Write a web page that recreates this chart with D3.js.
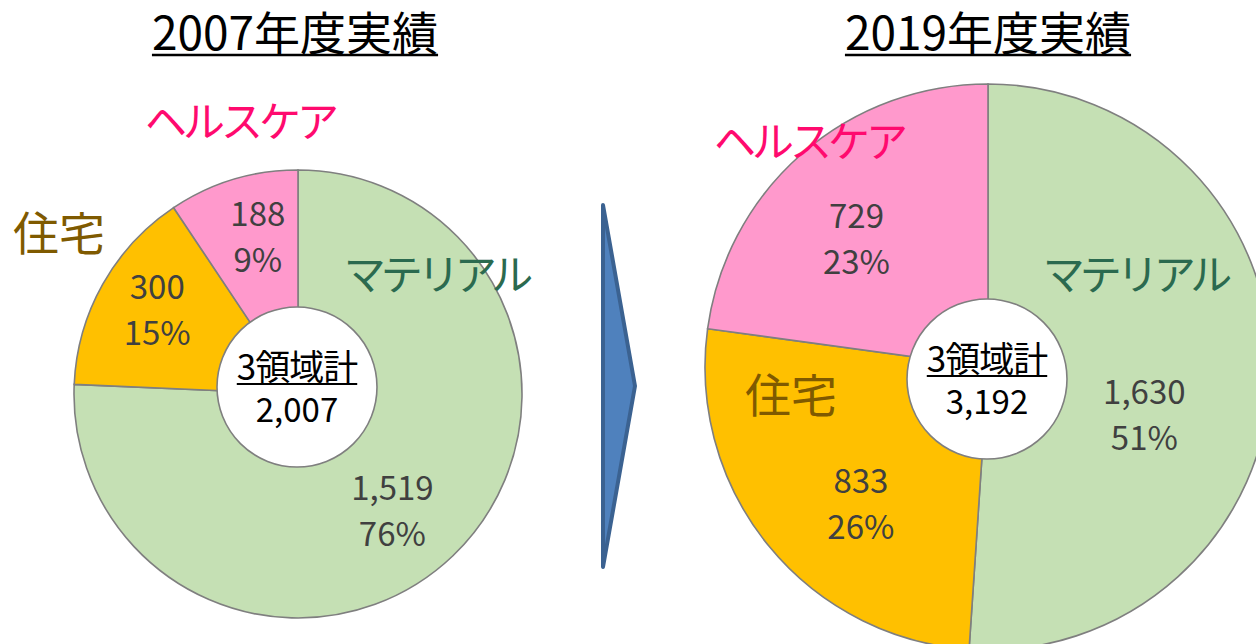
<!DOCTYPE html>
<html>
<head>
<meta charset="utf-8">
<script src="https://cdn.jsdelivr.net/npm/d3@7"></script>
<style>
  html, body { margin: 0; padding: 0; background: #fff; }
  svg { display: block; font-family: "Noto Sans CJK JP", "Noto Sans", sans-serif; }
</style>
</head>
<body>
<script>
// data
const segments = ['マテリアル', '住宅', 'ヘルスケア'];
const years = ['2007年度実績', '2019年度実績'];
const values2007 = [1519, 300, 188];
const values2019 = [1630, 833, 729];
const totalLabel = '3領域計';

const width = 1256;
const height = 644;

const fills = ['#c5e0b4', '#ffc000', '#ff99cc'];
const catColors = ['#2b6a4f', '#7f5a00', '#ff0a6e'];

// layout for each pie (centre, radius, hole, label tweaks)
const pies = [
  {
    title: years[0], values: values2007, cx: 298, cy: 394, r: 224,
    hole: { cx: 297, cy: 387, r: 80 },
    nudge: [[-11, 7], [-8, -9], [4, -11]],
    cat: [[436, 290], [59, 250], [240, 137]]
  },
  {
    title: years[1], values: values2019, cx: 988, cy: 367, r: 283,
    hole: { cx: 987, cy: 379, r: 80 },
    nudge: [[-36, 42], [22, 15], [-5, 17]],
    cat: [[1135, 290], [791, 412], [809, 157]]
  }
];

const svg = d3.select('body').append('svg')
  .attr('width', width)
  .attr('height', height);

svg.append('rect').attr('width', width).attr('height', height).attr('fill', '#fff');

const pie = d3.pie().sort(null).value(d => d);
const fmt = d3.format(',');

pies.forEach((p, k) => {
  const total = d3.sum(p.values);
  const arcs = pie(p.values);
  const arc = d3.arc().innerRadius(0).outerRadius(p.r);
  const labelArc = d3.arc().innerRadius(p.r * 0.68).outerRadius(p.r * 0.68);

  const g = svg.append('g').attr('transform', `translate(${p.cx},${p.cy})`);

  g.selectAll('path')
    .data(arcs)
    .enter()
      .append('path')
        .attr('d', arc)
        .attr('fill', (d, i) => fills[i])
        .attr('stroke', '#7f7f7f')
        .attr('stroke-width', 1.6);

  const lab = g.selectAll('.val')
    .data(arcs)
    .enter()
      .append('text')
        .attr('class', 'val')
        .attr('text-anchor', 'middle')
        .attr('fill', '#404040')
        .style('font-size', '33px')
        .attr('transform', (d, i) => {
          const c = labelArc.centroid(d);
          return `translate(${c[0] + p.nudge[i][0]},${c[1] + p.nudge[i][1]})`;
        });
  lab.append('tspan').attr('x', 0).attr('y', -11).text(d => fmt(d.data));
  lab.append('tspan').attr('x', 0).attr('y', 35)
    .text(d => Math.round(d.data / total * 100) + '%');

  // category names
  svg.selectAll(null)
    .data(segments)
    .enter()
      .append('text')
        .attr('x', (d, i) => p.cat[i][0])
        .attr('y', (d, i) => p.cat[i][1])
        .attr('text-anchor', 'middle')
        .attr('fill', (d, i) => catColors[i])
        .style('font-size', (d, i) => i === 1 ? '46px' : '42px')
        .style('letter-spacing', (d, i) => i === 1 ? '0px' : (i === 0 ? '-5px' : '-4px'))
        .text(d => d);

  // centre hole
  svg.append('circle')
    .attr('cx', p.hole.cx).attr('cy', p.hole.cy).attr('r', p.hole.r)
    .attr('fill', '#fff').attr('stroke', '#7f7f7f').attr('stroke-width', 1.6);

  const t1 = svg.append('text')
    .attr('x', p.hole.cx).attr('y', p.hole.cy - 7)
    .attr('text-anchor', 'middle')
    .style('font-size', '35px')
    .style('letter-spacing', '-1px')
    .text(totalLabel);
  const b1 = t1.node().getBBox();
  svg.append('line')
    .attr('x1', b1.x).attr('x2', b1.x + b1.width)
    .attr('y1', p.hole.cy - 3).attr('y2', p.hole.cy - 3)
    .attr('stroke', '#000').attr('stroke-width', 2);

  svg.append('text')
    .attr('x', p.hole.cx).attr('y', p.hole.cy + 35)
    .attr('text-anchor', 'middle')
    .style('font-size', '33px')
    .text(fmt(total));

  // title
  const tt = svg.append('text')
    .attr('x', p.cx - (k === 0 ? 3 : 0)).attr('y', 50)
    .attr('text-anchor', 'middle')
    .style('font-size', '46px')
    .text(p.title);
  const bt = tt.node().getBBox();
  svg.append('line')
    .attr('x1', bt.x).attr('x2', bt.x + bt.width)
    .attr('y1', 55).attr('y2', 55)
    .attr('stroke', '#000').attr('stroke-width', 2.5);
});

// arrow between the two pies
const ax = 603, atop = 205, abot = 567, atip = 635;
svg.append('path')
  .attr('d', `M${ax},${atop}L${atip},${(atop + abot) / 2}L${ax},${abot}Z`)
  .attr('fill', '#4f81bd')
  .attr('stroke', '#3b6291')
  .attr('stroke-width', 4)
  .attr('stroke-linejoin', 'round');
</script>
</body>
</html>
